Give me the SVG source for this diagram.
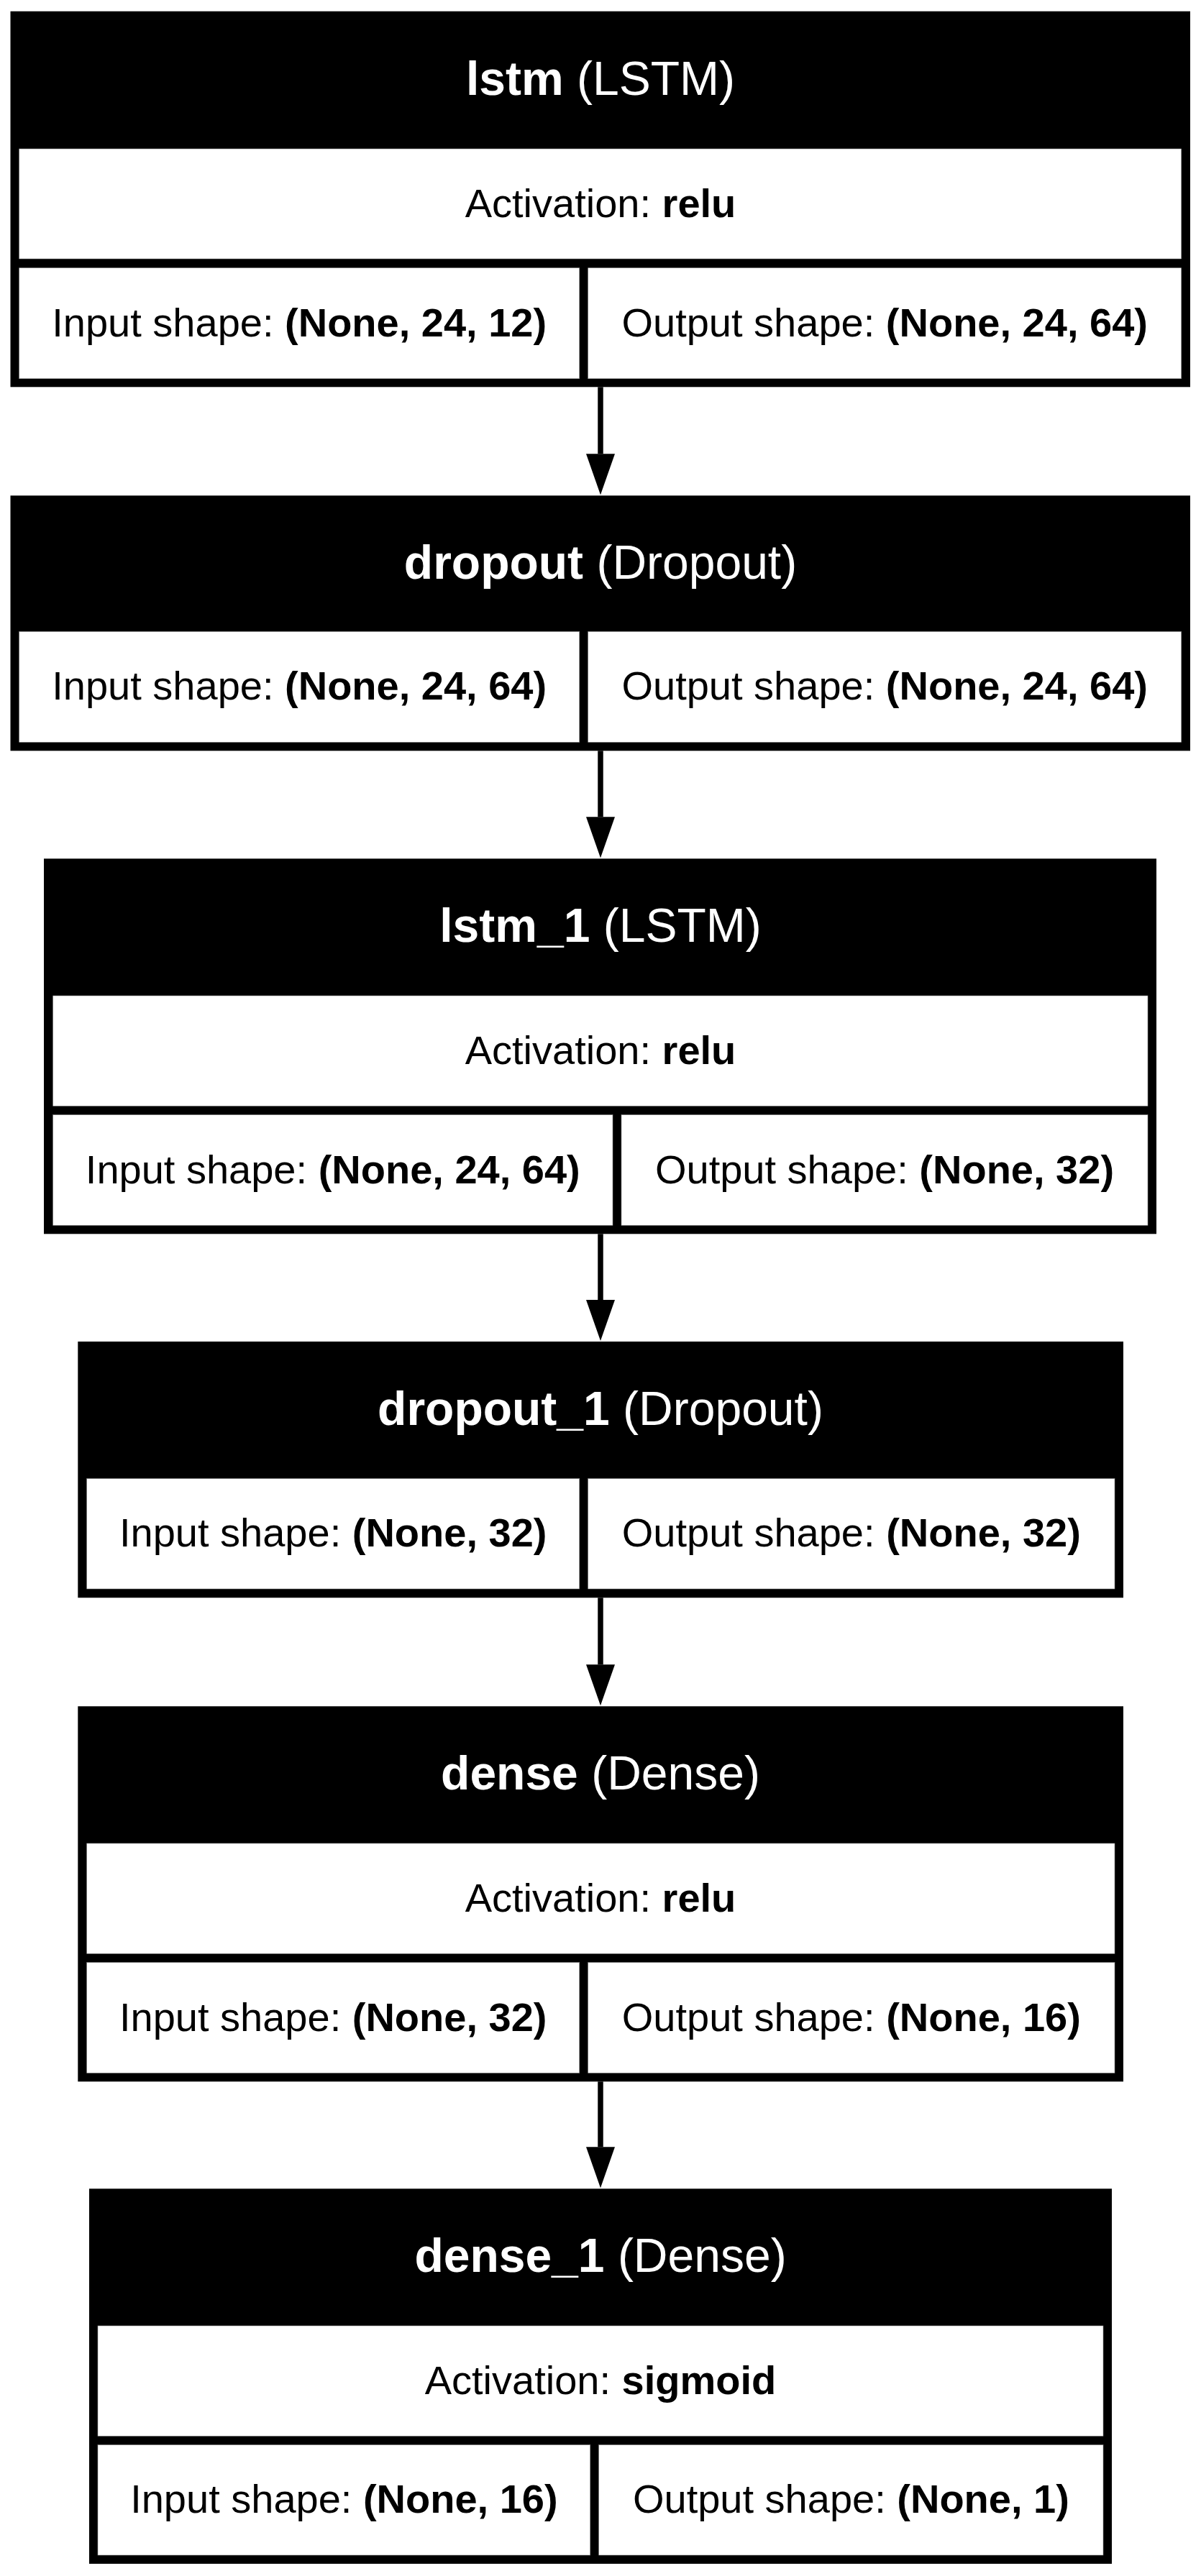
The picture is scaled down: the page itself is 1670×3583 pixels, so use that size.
<svg xmlns="http://www.w3.org/2000/svg" width="1670" height="3583" viewBox="0 0 1670 3583">
<style>
.frame{fill:#000}
.cell{fill:#fff;stroke:#8a8a8a;stroke-width:0.6}
text{font-family:"Liberation Sans",Arial,Helvetica,sans-serif}
.hd{fill:#fff;font-size:66px;text-anchor:middle}
.bd{fill:#000;font-size:56px;text-anchor:middle}
.b{font-weight:bold}
.edge{stroke:#000;stroke-width:7.5;fill:none}
</style>
<defs>
<marker id="ah" markerUnits="userSpaceOnUse" viewBox="0 0 57 40" refX="0" refY="20" markerWidth="57" markerHeight="40" orient="auto">
<path d="M0,0 L57,20 L0,40 Z" fill="#000"/>
</marker>
</defs>
<rect width="1670" height="3583" fill="#fff"/>

<g id="connectors">
<path class="edge" d="M835,538.3 V631.3" marker-end="url(#ah)"/>
<path class="edge" d="M835,1044.3 V1136.3" marker-end="url(#ah)"/>
<path class="edge" d="M835,1716.3 V1808" marker-end="url(#ah)"/>
<path class="edge" d="M835,2222.3 V2315.3" marker-end="url(#ah)"/>
<path class="edge" d="M835,2895.3 V2986.3" marker-end="url(#ah)"/>
</g>

<g id="lstm">
<rect class="frame" x="14.5" y="15.7" width="1640.5" height="522.6"/>
<rect class="cell" x="26.7" y="207" width="1616" height="153"/>
<rect class="cell" x="26.7" y="372.7" width="779" height="154"/>
<rect class="cell" x="817.7" y="372.7" width="825" height="154"/>
<text class="hd" x="835" y="131.7"><tspan class="b">lstm</tspan> (LSTM)</text>
<text class="bd" x="835" y="301.5">Activation: <tspan class="b">relu</tspan></text>
<text class="bd" x="416.2" y="467.7">Input shape: <tspan class="b">(None, 24, 12)</tspan></text>
<text class="bd" x="1230.2" y="467.7">Output shape: <tspan class="b">(None, 24, 64)</tspan></text>
</g>

<g id="dropout">
<rect class="frame" x="14.5" y="689.3" width="1640.5" height="355"/>
<rect class="cell" x="26.7" y="878.5" width="779" height="153.8"/>
<rect class="cell" x="817.7" y="878.5" width="825" height="153.8"/>
<text class="hd" x="835" y="805.3"><tspan class="b">dropout</tspan> (Dropout)</text>
<text class="bd" x="416.2" y="973.4">Input shape: <tspan class="b">(None, 24, 64)</tspan></text>
<text class="bd" x="1230.2" y="973.4">Output shape: <tspan class="b">(None, 24, 64)</tspan></text>
</g>

<g id="lstm_1">
<rect class="frame" x="61" y="1194.3" width="1547" height="522"/>
<rect class="cell" x="73.7" y="1385" width="1522.3" height="153.3"/>
<rect class="cell" x="73.7" y="1550.7" width="778.3" height="153.6"/>
<rect class="cell" x="864" y="1550.7" width="732" height="153.6"/>
<text class="hd" x="835" y="1310.3"><tspan class="b">lstm_1</tspan> (LSTM)</text>
<text class="bd" x="835" y="1479.7">Activation: <tspan class="b">relu</tspan></text>
<text class="bd" x="462.8" y="1645.5">Input shape: <tspan class="b">(None, 24, 64)</tspan></text>
<text class="bd" x="1230" y="1645.5">Output shape: <tspan class="b">(None, 32)</tspan></text>
</g>

<g id="dropout_1">
<rect class="frame" x="108.3" y="1866" width="1453.7" height="356.3"/>
<rect class="cell" x="120.7" y="2056.7" width="685" height="153.3"/>
<rect class="cell" x="817.7" y="2056.7" width="732.3" height="153.3"/>
<text class="hd" x="835" y="1982"><tspan class="b">dropout_1</tspan> (Dropout)</text>
<text class="bd" x="463.2" y="2151.4">Input shape: <tspan class="b">(None, 32)</tspan></text>
<text class="bd" x="1183.8" y="2151.4">Output shape: <tspan class="b">(None, 32)</tspan></text>
</g>

<g id="dense">
<rect class="frame" x="108.3" y="2373.3" width="1453.7" height="522"/>
<rect class="cell" x="120.7" y="2564" width="1429.3" height="153.3"/>
<rect class="cell" x="120.7" y="2729.7" width="685" height="153.6"/>
<rect class="cell" x="817.7" y="2729.7" width="732.3" height="153.6"/>
<text class="hd" x="835" y="2489.3"><tspan class="b">dense</tspan> (Dense)</text>
<text class="bd" x="835" y="2658.7">Activation: <tspan class="b">relu</tspan></text>
<text class="bd" x="463.2" y="2824.5">Input shape: <tspan class="b">(None, 32)</tspan></text>
<text class="bd" x="1183.8" y="2824.5">Output shape: <tspan class="b">(None, 16)</tspan></text>
</g>

<g id="dense_1">
<rect class="frame" x="124" y="3044.3" width="1422" height="521.7"/>
<rect class="cell" x="136" y="3235" width="1398" height="153.3"/>
<rect class="cell" x="136" y="3400.7" width="684.7" height="153.3"/>
<rect class="cell" x="832.7" y="3400.7" width="701.3" height="153.3"/>
<text class="hd" x="835" y="3160.3"><tspan class="b">dense_1</tspan> (Dense)</text>
<text class="bd" x="835" y="3329.7">Activation: <tspan class="b">sigmoid</tspan></text>
<text class="bd" x="478.4" y="3495.4">Input shape: <tspan class="b">(None, 16)</tspan></text>
<text class="bd" x="1183.4" y="3495.4">Output shape: <tspan class="b">(None, 1)</tspan></text>
</g>
</svg>
